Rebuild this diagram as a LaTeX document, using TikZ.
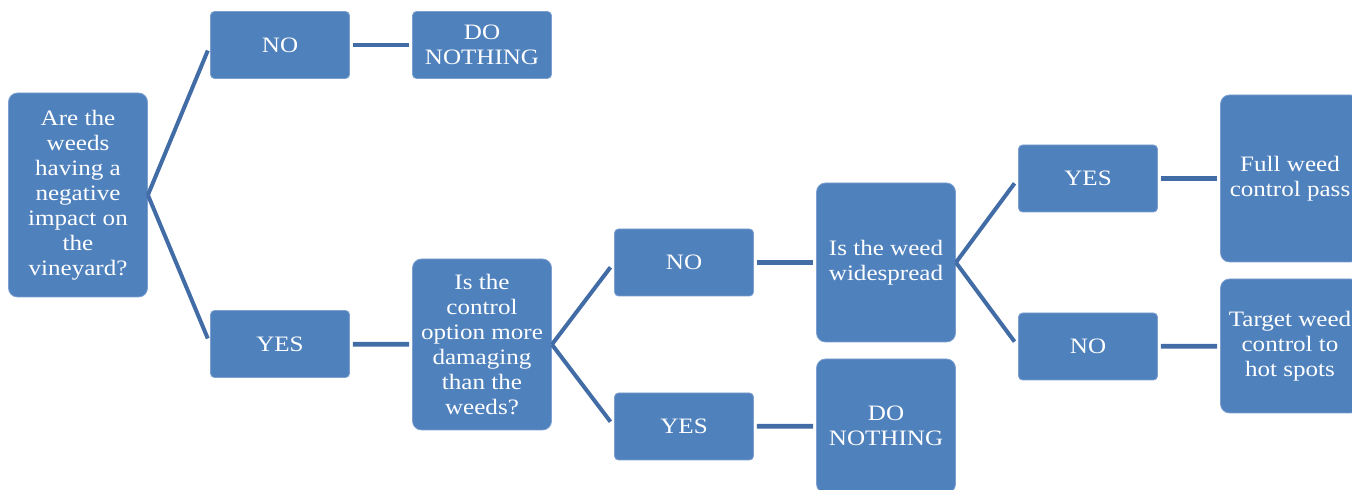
\documentclass[tikz,border=0pt]{standalone}
\usepackage{fontspec}
\setmainfont{Liberation Serif}[FakeStretch=1.14]
\usepackage{tikz}
\usetikzlibrary{positioning}
\definecolor{wdFill}{RGB}{79, 129, 189}
\definecolor{wdEdge}{RGB}{125, 160, 208}
\definecolor{wdLine}{RGB}{66, 108, 165}
\tikzset{
    base/.style={
        font=\fontsize{11}{12.5}\selectfont,
        align=center,
        text=white
    },
    answer/.style={
        base,
        rectangle,
        rounded corners=2pt,
        draw=wdEdge,
        line width=0.4pt,
        fill=wdFill,
        inner sep=0pt,
        minimum width=69.5pt,
        minimum height=33.5pt
    },
    question/.style={
        answer,
        rounded corners=4.5pt
    },
    fork/.style={
        draw=wdLine,
        line width=2pt,
        shorten >=3pt
    },
    link/.style={
        draw=wdLine,
        line width=2.4pt,
        shorten <=1.5pt,
        shorten >=1.5pt
    }
}
\begin{document}
\begin{tikzpicture}[x=0.5pt, y=-0.5pt]
  \clip (0,0) rectangle (1352,490);

  % First question
  \node[question, minimum height=102pt] (root) at (78,195)
    {Are the\\weeds\\having a\\negative\\impact on\\the\\vineyard?};
  \node[answer] (no1) at (280,45) {NO};
  \node[answer] (yes1) at (280,344) {YES};
  \node[answer] (nothing1) at (482,45) {DO\\NOTHING};

  \draw[fork] (root.east) -- (no1.west);
  \draw[fork] (root.east) -- (yes1.west);
  \draw[link] (no1) -- (nothing1);

  % Second question
  \node[question, minimum height=85.5pt] (damage) at (482,344.5)
    {Is the\\control\\option more\\damaging\\than the\\weeds?};
  \node[answer] (no2) at (684,262.5) {NO};
  \node[answer] (yes2) at (684,426.5) {YES};
  \node[question, minimum height=67pt] (nothing2) at (886,426)
    {DO\\NOTHING};

  \draw[link] (yes1) -- (damage);
  \draw[fork] (damage.east) -- (no2.west);
  \draw[fork] (damage.east) -- (yes2.west);
  \draw[link] (yes2) -- (nothing2);

  % Third question
  \node[question, minimum height=79.5pt] (spread) at (886,262.5)
    {Is the weed\\widespread};
  \node[answer] (yes3) at (1088,178.5) {YES};
  \node[answer] (no3) at (1088,346.5) {NO};
  \node[question, minimum height=83.5pt] (full) at (1290,178.5)
    {Full weed\\control pass};
  \node[question, minimum height=67pt] (target) at (1290,346)
    {Target weed\\control to\\hot spots};

  \draw[link] (no2) -- (spread);
  \draw[fork] (spread.east) -- (yes3.west);
  \draw[fork] (spread.east) -- (no3.west);
  \draw[link] (yes3) -- (full);
  \draw[link] (no3) -- (target);
\end{tikzpicture}
\end{document}
